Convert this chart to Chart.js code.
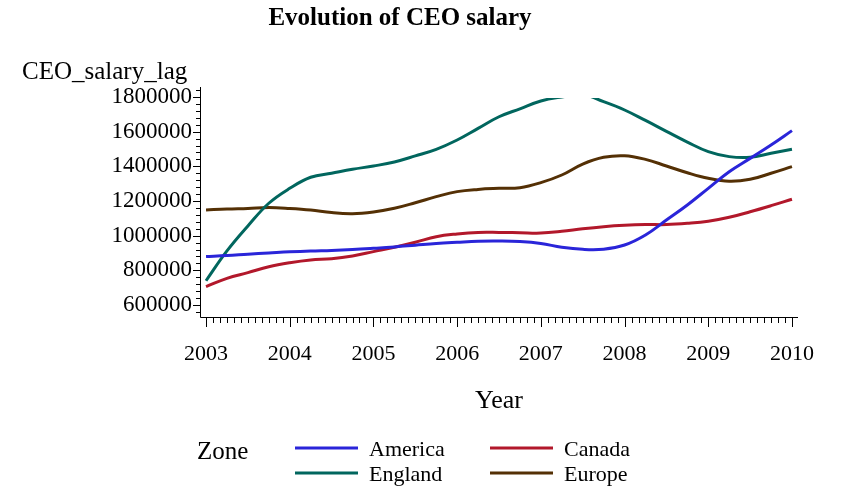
<!DOCTYPE html>
<html>
<head>
<meta charset="utf-8">
<script src="https://cdn.jsdelivr.net/npm/chart.js@4.4.1/dist/chart.umd.min.js"></script>
<style>
  html, body { margin: 0; padding: 0; background: #fff; }
  #wrap { width: 841px; height: 490px; position: relative; }
</style>
</head>
<body>
<div id="wrap"><canvas id="chart"></canvas></div>
<script>
// quarterly sample points
const years = [2003, 2003.25, 2003.5, 2003.75, 2004, 2004.25, 2004.5, 2004.75,
    2005, 2005.25, 2005.5, 2005.75, 2006, 2006.25, 2006.5, 2006.75,
    2007, 2007.25, 2007.5, 2007.75, 2008, 2008.25, 2008.5, 2008.75,
    2009, 2009.25, 2009.5, 2009.75, 2010];

const america = [880000, 885000, 893000, 900000, 907000, 912000, 915000, 920000,
    927000, 935000, 945000, 955000, 962000, 968000, 969000, 966000,
    955000, 933000, 921000, 922000, 946000, 1004000, 1090000, 1177000,
    1273000, 1369000, 1446000, 1523000, 1606000];
const canada = [706000, 754000, 787000, 821000, 844000, 860000, 867000, 883000,
    908000, 933000, 962000, 994000, 1010000, 1019000, 1019000, 1017000,
    1015000, 1025000, 1040000, 1052000, 1060000, 1064000, 1064000, 1071000,
    1083000, 1106000, 1138000, 1173000, 1210000];
const england = [740000, 912000, 1056000, 1187000, 1273000, 1337000, 1360000, 1383000,
    1402000, 1425000, 1460000, 1498000, 1552000, 1619000, 1686000, 1732000,
    1777000, 1800000, 1814000, 1773000, 1725000, 1665000, 1602000, 1540000,
    1485000, 1456000, 1452000, 1475000, 1498000];
const europe = [1148000, 1154000, 1157000, 1162000, 1157000, 1148000, 1133000, 1127000,
    1137000, 1158000, 1190000, 1225000, 1254000, 1267000, 1273000, 1277000,
    1306000, 1350000, 1413000, 1452000, 1461000, 1440000, 1402000, 1363000,
    1331000, 1314000, 1325000, 1360000, 1398000];

const zones = ["America", "Canada", "England", "Europe"];
const colors = ["#2a25d9", "#b2182b", "#01665e", "#543005"];
const yTicks = [600000, 800000, 1000000, 1200000, 1400000, 1600000, 1800000];
const xTicks = [2003, 2004, 2005, 2006, 2007, 2008, 2009, 2010];

const serif = "'Liberation Serif', 'DejaVu Serif', serif";

function pts(vals) {
    return vals.map((v, i) => ({x: years[i], y: v}));
}

// axis lines, tick marks, axis titles and the legend
const decor = {
    id: 'decor',
    afterDraw(chart) {
        const ctx = chart.ctx;
        const a = chart.chartArea;
        const xs = chart.scales.x, ys = chart.scales.y;
        ctx.save();
        ctx.strokeStyle = '#000';
        ctx.lineWidth = 1;
        ctx.beginPath();
        ctx.moveTo(a.left + 0.5, a.top - 10);
        ctx.lineTo(a.left + 0.5, a.bottom + 0.5);
        ctx.lineTo(a.right, a.bottom + 0.5);
        ctx.stroke();

        // y ticks: major every 200000, minor every 40000
        for (let v = 560000; v <= 1840000; v += 40000) {
            const y = Math.round(ys.getPixelForValue(v)) + 0.5;
            const len = (v % 200000 === 0) ? 7 : 4;
            ctx.beginPath();
            ctx.moveTo(a.left - len, y);
            ctx.lineTo(a.left, y);
            ctx.stroke();
        }
        // x ticks: major each year, minor each month
        for (let m = 0; m <= 84; m++) {
            const x = Math.round(xs.getPixelForValue(2003 + m / 12)) + 0.5;
            const len = (m % 12 === 0) ? 10 : 6;
            ctx.beginPath();
            ctx.moveTo(x, a.bottom);
            ctx.lineTo(x, a.bottom + len);
            ctx.stroke();
        }

        ctx.fillStyle = '#000';
        ctx.textBaseline = 'middle';
        ctx.font = 'bold 25px ' + serif;
        ctx.textAlign = 'center';
        ctx.fillText('Evolution of CEO salary', 400, 19);

        ctx.font = '25px ' + serif;
        ctx.textAlign = 'left';
        ctx.fillText('CEO_salary_lag', 22, 72);

        ctx.font = '26px ' + serif;
        ctx.textAlign = 'center';
        ctx.fillText('Year', 499, 401);

        // legend
        ctx.font = '25px ' + serif;
        ctx.textAlign = 'left';
        ctx.fillText('Zone', 197, 452);
        const cols = [295, 490];
        const rows = [448, 473];
        ctx.font = '22px ' + serif;
        zones.forEach((z, i) => {
            const x = cols[i % 2], y = rows[Math.floor(i / 2)];
            ctx.strokeStyle = colors[i];
            ctx.lineWidth = 3;
            ctx.beginPath();
            ctx.moveTo(x, y);
            ctx.lineTo(x + 63, y);
            ctx.stroke();
            ctx.fillText(z, x + 74, y + 2);
        });
        ctx.restore();
    }
};

new Chart(document.getElementById('chart'), {
    type: 'line',
    data: {
        datasets: [
            {label: zones[0], data: pts(america)},
            {label: zones[1], data: pts(canada)},
            {label: zones[2], data: pts(england)},
            {label: zones[3], data: pts(europe)}
        ].map((d, i) => Object.assign(d, {
            borderColor: colors[i],
            borderWidth: 3,
            pointRadius: 0,
            tension: 0.4,
            clip: {left: 0, right: 0, top: -1, bottom: 0}
        }))
    },
    options: {
        responsive: true,
        maintainAspectRatio: false,
        animation: false,
        layout: { padding: { top: 97, right: 43, bottom: 0, left: 0 } },
        plugins: {
            legend: { display: false },
            title: { display: false },
            tooltip: { enabled: false }
        },
        scales: {
            x: {
                type: 'linear',
                min: 2002.928,
                max: 2010.072,
                grid: { display: false, drawTicks: false },
                border: { display: false },
                afterBuildTicks: s => { s.ticks = xTicks.map(v => ({value: v})); },
                afterFit: s => { s.height = 173; },
                ticks: {
                    padding: 24,
                    color: '#000',
                    maxRotation: 0,
                    font: { family: serif, size: 22 },
                    callback: v => String(v)
                }
            },
            y: {
                min: 530800,
                max: 1800000,
                grid: { display: false, drawTicks: false },
                border: { display: false },
                afterBuildTicks: s => { s.ticks = yTicks.map(v => ({value: v})); },
                afterFit: s => { s.width = 200; },
                ticks: {
                    padding: 8,
                    color: '#000',
                    font: { family: serif, size: 23 },
                    callback: v => String(v)
                }
            }
        }
    },
    plugins: [decor]
});
</script>
</body>
</html>
